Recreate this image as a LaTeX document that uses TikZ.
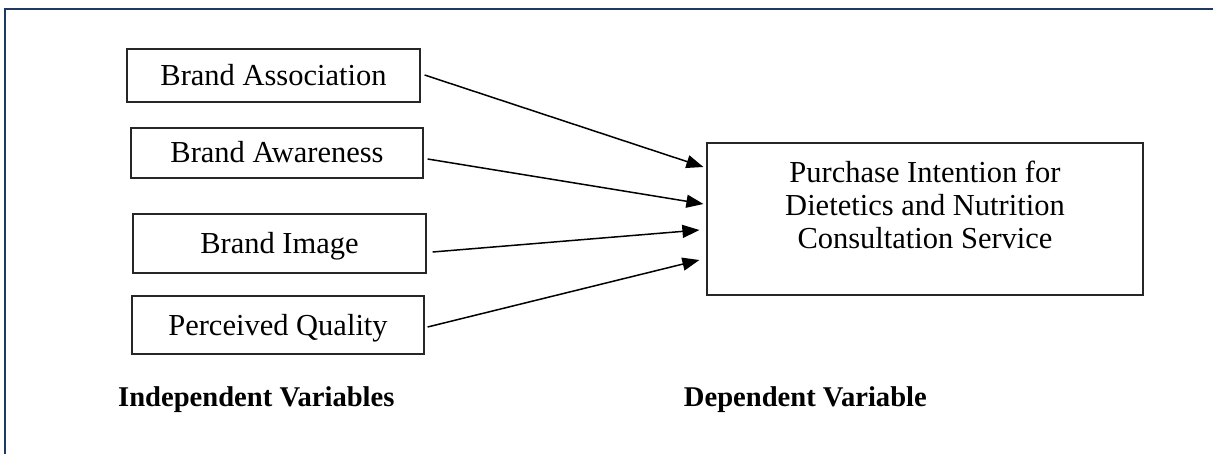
\documentclass[tikz,border=0pt]{standalone}
\usepackage{fontspec}
\setmainfont{Liberation Serif}
\usetikzlibrary{arrows.meta}
\definecolor{framenavy}{RGB}{31,56,100}
\begin{document}
\begin{tikzpicture}[x=1pt,y=-1pt,
  varbox/.style={draw=black!85, line width=1.2pt, rectangle, inner sep=0pt,
    font=\fontsize{30.5}{33}\selectfont, text height=20pt, text depth=0pt},
  bigbox/.style={draw=black!85, line width=1.2pt, rectangle, inner sep=0pt},
  boxtext/.style={font=\fontsize{30.5}{33}\selectfont, anchor=base, inner sep=0pt},
  lbl/.style={font=\fontsize{28.6}{32}\selectfont\bfseries, inner sep=0pt},
  arr/.style={line width=1.5pt, -{Triangle[length=17pt,width=13pt]}}]
\useasboundingbox (0,0) rectangle (1213,454);
% frame
\draw[framenavy, line width=2.6pt] (5,470) -- (5,9) -- (1230,9);
% independent variable boxes
\node[varbox, minimum width=293pt, minimum height=53pt] (b1) at (273.5,75.5) {Brand Association};
\node[varbox, minimum width=292pt, minimum height=50pt] (b2) at (277,153) {Brand Awareness};
\node[varbox, minimum width=293pt, minimum height=59pt] (b3) at (279.5,243.5) {Brand Image};
\node[varbox, minimum width=292pt, minimum height=58pt] (b4) at (278,325) {Perceived Quality};
% dependent variable box
\node[bigbox, minimum width=436pt, minimum height=152pt] (dv) at (925,219) {};
\node[boxtext] (dv1) at (925,183) {Purchase Intention for};
\node[boxtext] (dv2) at (925,216) {Dietetics and Nutrition};
\node[boxtext] (dv3) at (925,249) {Consultation Service};
% arrows
\draw[arr] ([shift={(4,-0.5)}]b1.east) -- ([shift={(-3,-52)}]dv.west);
\draw[arr] ([shift={(4,6)}]b2.east) -- ([shift={(-3,-15)}]dv.west);
\draw[arr] ([shift={(6,8.5)}]b3.east) -- ([shift={(-7,11)}]dv.west);
\draw[arr] ([shift={(3,2)}]b4.east) -- ([shift={(-7,41)}]dv.west);
% labels
\node[lbl, anchor=base west] (iv) at (118,406) {Independent Variables};
\node[lbl, anchor=base east] (dl) at (927,406) {Dependent Variable};
\end{tikzpicture}
\end{document}
